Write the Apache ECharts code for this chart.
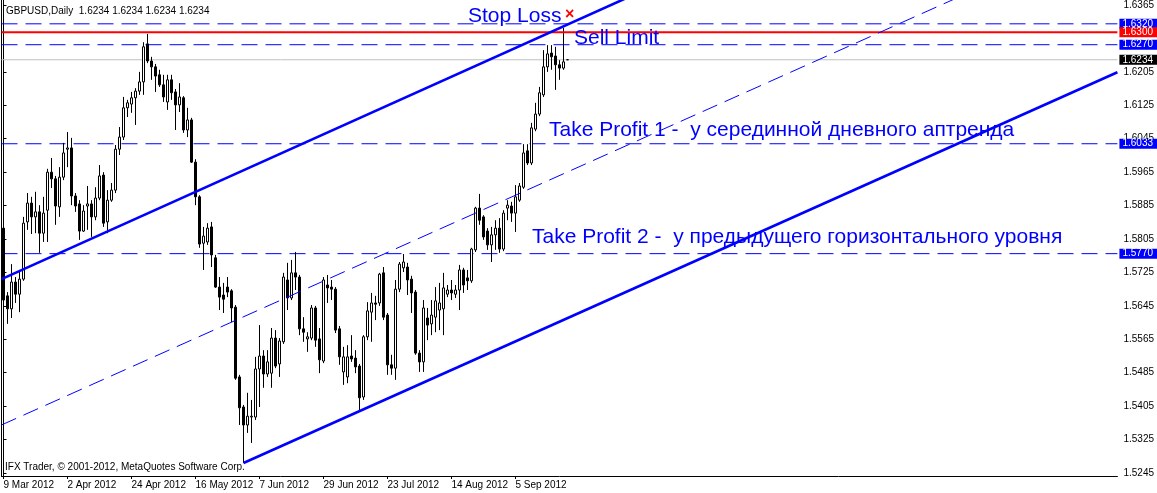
<!DOCTYPE html>
<html>
<head>
<meta charset="utf-8">
<script src="https://cdn.jsdelivr.net/npm/echarts@6/dist/echarts.min.js"></script>
<style>
html,body{margin:0;padding:0;background:#fff;}
#c{width:1157px;height:493px;}
</style>
</head>
<body>
<div id="c"></div>
<script>
// ---- data (GBPUSD daily, 9 Mar 2012 .. 24 Sep 2012) ----
const opens = [
1.5831,1.5669,1.5638,1.5702,1.5673,1.5709,1.5846,1.5891,1.5858,1.5870,
1.5819,1.5874,1.5965,1.5949,1.5882,1.5953,1.6020,1.6023,1.5908,1.5889,
1.5824,1.5884,1.5889,1.5858,1.5903,1.5958,1.5846,1.5898,1.5922,1.6020,
1.6049,1.6119,1.6128,1.6143,1.6159,1.6181,1.6272,1.6231,1.6217,1.6198,
1.6174,1.6133,1.6186,1.6157,1.6126,1.6143,1.6066,1.6090,1.5989,1.5906,
1.5795,1.5798,1.5834,1.5760,1.5690,1.5671,1.5690,1.5681,1.5642,1.5475,
1.5403,1.5360,1.5379,1.5379,1.5494,1.5525,1.5482,1.5484,1.5568,1.5506,
1.5559,1.5707,1.5664,1.5724,1.5714,1.5590,1.5566,1.5568,1.5640,1.5566,
1.5513,1.5695,1.5690,1.5685,1.5590,1.5487,1.5475,1.5525,1.5520,1.5501,
1.5427,1.5571,1.5630,1.5652,1.5652,1.5724,1.5623,1.5504,1.5496,1.5685,
1.5736,1.5738,1.5709,1.5678,1.5532,1.5511,1.5616,1.5602,1.5618,1.5635,
1.5638,1.5673,1.5683,1.5673,1.5683,1.5731,1.5712,1.5705,1.5779,1.5879,
1.5858,1.5824,1.5791,1.5815,1.5831,1.5781,1.5879,1.5884,1.5867,1.5898,
1.5929,1.6016,1.5987,1.6068,1.6104,1.6150,1.6217,1.6250,1.6243,1.6222,
1.6214,1.6234];
const highs = [
1.5836,1.5678,1.5745,1.5714,1.5731,1.5858,1.5915,1.5906,1.5918,1.5886,
1.5906,1.5973,1.5999,1.5956,1.5977,1.6035,1.6061,1.6047,1.5915,1.5898,
1.5886,1.5932,1.5898,1.5929,1.5982,1.5965,1.5922,1.5939,1.6030,1.6073,
1.6145,1.6138,1.6157,1.6166,1.6205,1.6276,1.6296,1.6241,1.6224,1.6210,
1.6198,1.6198,1.6198,1.6164,1.6178,1.6147,1.6119,1.6095,1.5996,1.5910,
1.5834,1.5843,1.5846,1.5767,1.5714,1.5700,1.5714,1.5685,1.5647,1.5480,
1.5408,1.5437,1.5420,1.5523,1.5599,1.5539,1.5539,1.5592,1.5587,1.5568,
1.5724,1.5748,1.5755,1.5774,1.5719,1.5618,1.5582,1.5647,1.5645,1.5592,
1.5714,1.5719,1.5707,1.5690,1.5597,1.5547,1.5551,1.5575,1.5539,1.5506,
1.5575,1.5654,1.5676,1.5669,1.5724,1.5738,1.5628,1.5528,1.5707,1.5750,
1.5769,1.5748,1.5717,1.5683,1.5539,1.5659,1.5640,1.5659,1.5690,1.5700,
1.5724,1.5695,1.5707,1.5695,1.5743,1.5736,1.5731,1.5784,1.5882,1.5913,
1.5862,1.5831,1.5834,1.5850,1.5855,1.5874,1.5898,1.5894,1.5934,1.5939,
1.6032,1.6032,1.6083,1.6131,1.6169,1.6257,1.6269,1.6269,1.6265,1.6233,
1.6310,1.6234];
const lows = [
1.5654,1.5602,1.5616,1.5652,1.5630,1.5705,1.5827,1.5817,1.5819,1.5772,
1.5798,1.5798,1.5927,1.5839,1.5858,1.5946,1.5977,1.5886,1.5870,1.5803,
1.5822,1.5827,1.5810,1.5850,1.5898,1.5834,1.5819,1.5894,1.5915,1.6006,
1.6042,1.6097,1.6107,1.6078,1.6150,1.6150,1.6226,1.6186,1.6157,1.6169,
1.6133,1.6114,1.6138,1.6066,1.6109,1.6059,1.6049,1.5987,1.5886,1.5784,
1.5731,1.5791,1.5738,1.5688,1.5635,1.5628,1.5666,1.5606,1.5468,1.5360,
1.5269,1.5341,1.5317,1.5372,1.5403,1.5449,1.5475,1.5449,1.5496,1.5475,
1.5554,1.5635,1.5659,1.5683,1.5575,1.5559,1.5535,1.5563,1.5547,1.5484,
1.5508,1.5652,1.5659,1.5580,1.5504,1.5456,1.5460,1.5511,1.5484,1.5394,
1.5420,1.5563,1.5559,1.5611,1.5645,1.5611,1.5480,1.5480,1.5468,1.5678,
1.5726,1.5671,1.5628,1.5528,1.5487,1.5487,1.5563,1.5575,1.5582,1.5587,
1.5575,1.5666,1.5659,1.5664,1.5635,1.5676,1.5683,1.5700,1.5774,1.5839,
1.5803,1.5779,1.5750,1.5779,1.5772,1.5776,1.5850,1.5846,1.5822,1.5894,
1.5925,1.5982,1.5982,1.6063,1.6099,1.6145,1.6205,1.6210,1.6162,1.6186,
1.6210,1.6234];
const closes = [
1.5659,1.5638,1.5702,1.5673,1.5709,1.5843,1.5891,1.5858,1.5870,1.5819,
1.5867,1.5965,1.5949,1.5884,1.5953,1.6011,1.6023,1.5908,1.5884,1.5824,
1.5872,1.5889,1.5858,1.5903,1.5956,1.5843,1.5898,1.5922,1.6020,1.6049,
1.6119,1.6131,1.6143,1.6159,1.6181,1.6265,1.6231,1.6217,1.6195,1.6174,
1.6145,1.6186,1.6155,1.6126,1.6145,1.6066,1.6090,1.5989,1.5906,1.5793,
1.5812,1.5831,1.5767,1.5690,1.5666,1.5661,1.5678,1.5640,1.5472,1.5401,
1.5360,1.5381,1.5381,1.5494,1.5525,1.5482,1.5511,1.5568,1.5501,1.5561,
1.5714,1.5664,1.5724,1.5714,1.5590,1.5582,1.5571,1.5640,1.5563,1.5516,
1.5707,1.5688,1.5685,1.5587,1.5523,1.5523,1.5523,1.5518,1.5499,1.5425,
1.5571,1.5633,1.5652,1.5649,1.5721,1.5618,1.5504,1.5496,1.5685,1.5745,
1.5750,1.5707,1.5676,1.5532,1.5511,1.5640,1.5599,1.5623,1.5657,1.5652,
1.5688,1.5683,1.5676,1.5683,1.5731,1.5695,1.5705,1.5781,1.5879,1.5850,
1.5810,1.5791,1.5815,1.5831,1.5781,1.5867,1.5886,1.5867,1.5906,1.5932,
1.6011,1.5987,1.6071,1.6104,1.6155,1.6217,1.6248,1.6241,1.6222,1.6214,
1.6229,1.6234];

// time scale: bar slots on the chart and the dates printed under some of them
const slotCount = 279;
const dateTickBars = [0, 16, 32, 48, 64, 80, 96, 112, 128];
const dateTickLabels = ['9 Mar 2012','2 Apr 2012','24 Apr 2012','16 May 2012','7 Jun 2012','29 Jun 2012','23 Jul 2012','14 Aug 2012','5 Sep 2012'];

// price scale
const priceTicks = [1.5245,1.5325,1.5405,1.5485,1.5565,1.5645,1.5725,1.5805,1.5885,1.5965,1.6045,1.6125,1.6205,1.6365];
const priceMin = 1.52379, priceMax = 1.6377;

// horizontal levels
const levelStop = 1.6320, levelSell = 1.6300, levelHigh = 1.6270, levelBid = 1.6234, levelTP1 = 1.6033, levelTP2 = 1.5770;

// trend channel lines: [bar, price]
const channelUpper = [[-0.5, 1.5709], [160, 1.6400]];
const channelLower = [[60, 1.5269], [278.5, 1.6204]];
const channelMiddle = [[-0.5, 1.5360], [240, 1.6389]];

// ---- chart ----
const BLUE = '#0000ff';
const FONT = '"Liberation Sans", Arial, sans-serif';
const candleData = opens.map((o, i) => [o, closes[i], lows[i], highs[i]]);
const slots = Array.from({length: slotCount}, (_, i) => String(i));
const tickMap = {};
dateTickBars.forEach((b, k) => { tickMap[b] = dateTickLabels[k]; });
const showTick = (idx) => tickMap[idx] !== undefined;

function levelSeries(value, color, width, dash, tagBg, z) {
  return {
    type: 'line', xAxisIndex: 1, yAxisIndex: 0,
    data: [[-0.5, value], [slotCount - 0.5, value]],
    symbol: 'none', silent: true, z: z,
    lineStyle: {color: color, width: width, type: dash},
    endLabel: {
      show: true, distance: 2,
      formatter: () => value.toFixed(4),
      color: '#ffffff', backgroundColor: tagBg,
      fontFamily: FONT, fontSize: 10, lineHeight: 10,
      padding: [0, 4, 0, 3]
    }
  };
}

const chart = echarts.init(document.getElementById('c'), null, {renderer: 'canvas'});
chart.setOption({
  animation: false,
  backgroundColor: '#ffffff',
  textStyle: {fontFamily: FONT},
  grid: {left: 1.5, right: 38, top: 0, bottom: 17},
  xAxis: [{
    type: 'category', data: slots, boundaryGap: true,
    axisLine: {show: true, lineStyle: {color: '#000', width: 1}},
    axisTick: {show: true, interval: showTick, alignWithLabel: true, length: 3, lineStyle: {color: '#000'}},
    axisLabel: {interval: showTick, formatter: (v, idx) => tickMap[idx] || '', align: 'left', margin: 4,
      color: '#000', fontSize: 10, fontFamily: FONT},
    splitLine: {show: false}
  }, {
    type: 'value', min: -0.5, max: slotCount - 0.5, show: false
  }],
  yAxis: [{
    type: 'value', position: 'right', min: priceMin, max: priceMax,
    axisLine: {show: true, lineStyle: {color: '#000', width: 1}},
    axisTick: {show: true, length: 3, customValues: priceTicks, lineStyle: {color: '#000'}},
    axisLabel: {customValues: priceTicks, formatter: (v) => v.toFixed(4), margin: 6,
      color: '#000', fontSize: 10, fontFamily: FONT, showMinLabel: true, showMaxLabel: true},
    splitLine: {show: false}
  }, {
    type: 'value', position: 'left', min: priceMin, max: priceMax,
    axisLine: {show: true, lineStyle: {color: '#000', width: 1}},
    axisTick: {show: false}, axisLabel: {show: false}, splitLine: {show: false}
  }],
  series: [
    levelSeries(levelBid, '#c0c0c0', 1, 'solid', '#000000', 1),
    levelSeries(levelStop, BLUE, 1, [16, 8], BLUE, 1),
    levelSeries(levelHigh, BLUE, 1, [16, 8], BLUE, 1),
    levelSeries(levelTP1, BLUE, 1, [16, 8], BLUE, 1),
    levelSeries(levelTP2, BLUE, 1, [16, 8], BLUE, 1),
    {
      type: 'candlestick',
      xAxisIndex: 0, yAxisIndex: 0,
      data: candleData,
      barWidth: 3, z: 2,
      itemStyle: {color: '#ffffff', color0: '#000000', borderColor: '#000000', borderColor0: '#000000', borderWidth: 1}
    },
    levelSeries(levelSell, '#ff0000', 2, 'solid', '#ff0000', 3),
    {
      type: 'line', xAxisIndex: 1, yAxisIndex: 0, data: channelUpper,
      symbol: 'none', clip: true, silent: true, lineStyle: {color: BLUE, width: 2.6}, z: 3
    }, {
      type: 'line', xAxisIndex: 1, yAxisIndex: 0, data: channelLower,
      symbol: 'none', clip: true, silent: true, lineStyle: {color: BLUE, width: 2.6}, z: 3
    }, {
      type: 'line', xAxisIndex: 1, yAxisIndex: 0, data: channelMiddle,
      symbol: 'none', clip: true, silent: true, lineStyle: {color: BLUE, width: 1, type: [16, 8]}, z: 3
    }
  ],
  graphic: [
    {type: 'text', x: 6, y: 11, z: 10, style: {text: 'GBPUSD,Daily  1.6234 1.6234 1.6234 1.6234', font: '10px ' + FONT, fill: '#000', textVerticalAlign: 'middle'}},
    {type: 'text', x: 468, y: 16, z: 10, style: {text: 'Stop Loss', font: '21px ' + FONT, fill: BLUE, textVerticalAlign: 'middle'}},
    {type: 'text', x: 565, y: 15, z: 10, style: {text: '×', font: 'bold 16px ' + FONT, fill: '#ff0000', textVerticalAlign: 'middle'}},
    {type: 'text', x: 574, y: 38, z: 10, style: {text: 'Sell Limit', font: '21px ' + FONT, fill: BLUE, textVerticalAlign: 'middle'}},
    {type: 'text', x: 549, y: 130, z: 10, style: {text: 'Take Profit 1 -  у серединной дневного аптренда', font: '21px ' + FONT, fill: BLUE, textVerticalAlign: 'middle'}},
    {type: 'text', x: 532, y: 237, z: 10, style: {text: 'Take Profit 2 -  у предыдущего горизонтального уровня', font: '21px ' + FONT, fill: BLUE, textVerticalAlign: 'middle'}},
    {type: 'text', x: 5, y: 467, z: 10, style: {text: 'IFX Trader, © 2001-2012, MetaQuotes Software Corp.', font: '10px ' + FONT, fill: '#000', textVerticalAlign: 'middle'}}
  ]
});
</script>
</body>
</html>
